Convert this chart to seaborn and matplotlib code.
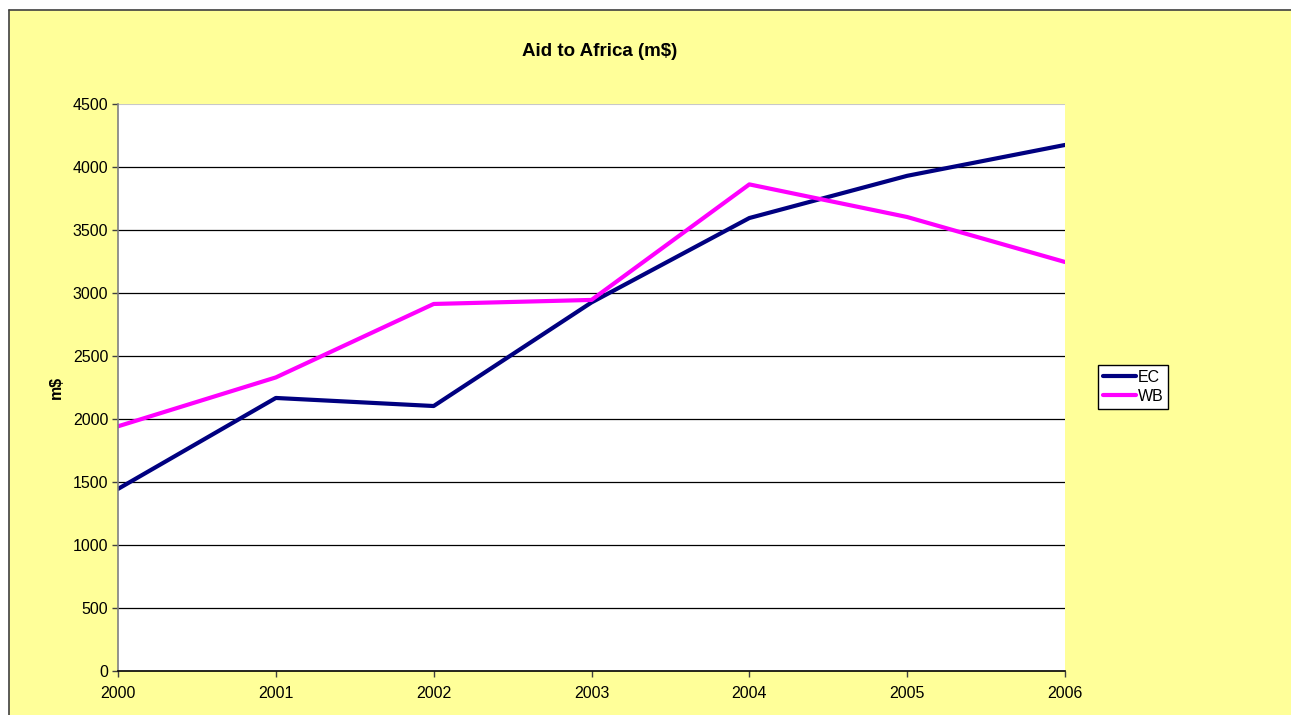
import matplotlib
matplotlib.use("Agg")
import matplotlib.pyplot as plt
from matplotlib.patches import Rectangle
from matplotlib.lines import Line2D
import pandas as pd
import seaborn as sns

# values (m$)
years = [2000, 2001, 2002, 2003, 2004, 2005, 2006]
ec_values = [1445, 2167, 2103, 2925, 3595, 3930, 4175]
wb_values = [1942, 2330, 2913, 2945, 3862, 3603, 3246]
series_names = ["EC", "WB"]
y_ticks = [0, 500, 1000, 1500, 2000, 2500, 3000, 3500, 4000, 4500]

df = pd.DataFrame({
    "year": years * 2,
    "value": ec_values + wb_values,
    "series": ["EC"] * len(years) + ["WB"] * len(years),
})

sns.set_style("ticks")
plt.rcParams["font.family"] = ["Liberation Sans", "DejaVu Sans"]
plt.rcParams["text.color"] = "black"

W, H = 1291, 715
fig = plt.figure(figsize=(W / 100, H / 100), dpi=100, facecolor="white")

# yellow chart area with the dark border on top and left (chart is cropped)
fig.patches.append(Rectangle((9 / W, 0), 1, 1 - 10 / H, transform=fig.transFigure,
                             facecolor="#FFFF99", edgecolor="none", zorder=-5))
fig.add_artist(Line2D([9 / W, 9 / W], [0, 1 - 10 / H], color="#404040", lw=1.2))
fig.add_artist(Line2D([9 / W, 1], [1 - 10 / H, 1 - 10 / H], color="#404040", lw=1.2))

ax = fig.add_axes([118 / W, 1 - 671 / H, (1065 - 118) / W, (671 - 104) / H])
ax.set_facecolor("white")

sns.lineplot(data=df, x="year", y="value", hue="series",
             palette={"EC": "#000080", "WB": "#FF00FF"}, linewidth=3.0,
             ax=ax, legend=False)

ax.set_xlim(years[0], years[-1])
ax.set_ylim(0, 4500)
ax.set_xticks(years)
ax.set_xticklabels([str(y) for y in years], fontsize=11.5)
ax.set_yticks(y_ticks)
ax.set_yticklabels([str(v) for v in y_ticks], fontsize=11.5)
for v in y_ticks[1:-1]:
    ax.axhline(v, color="black", lw=0.9, zorder=1)
# top edge of the plot area is drawn faint in the original
ax.axhline(y_ticks[-1], color="#C8C8C8", lw=1.5, zorder=1)

ax.tick_params(axis="both", direction="out", length=4, width=1, color="#404040",
               labelcolor="black")
ax.tick_params(axis="x", pad=7)
ax.tick_params(axis="y", pad=3)

for side in ["top", "right"]:
    ax.spines[side].set_visible(False)
ax.spines["left"].set_color("#808080")
ax.spines["bottom"].set_color("black")
ax.spines["left"].set_linewidth(1.2)
ax.spines["bottom"].set_linewidth(1.2)

ax.set_xlabel("")
ax.set_ylabel("m$", fontsize=11.5, fontweight="bold", labelpad=6, color="black")

fig.text(600 / W, 1 - 51 / H, "Aid to Africa (m$)", ha="center", va="center",
         fontsize=13.5, fontweight="bold", color="black")

handles = [Line2D([], [], color="#000080", lw=3.0),
           Line2D([], [], color="#FF00FF", lw=3.0)]
leg = ax.legend(handles, series_names, loc="upper left",
                bbox_to_anchor=(1098 / W, 1 - 365 / H), bbox_transform=fig.transFigure,
                borderaxespad=0, fontsize=11.5, frameon=True, fancybox=False,
                handlelength=2.1, handletextpad=0.1, borderpad=0.3,
                labelspacing=0.25)
leg.get_frame().set_edgecolor("black")
leg.get_frame().set_linewidth(1)
leg.get_frame().set_facecolor("white")
leg.get_frame().set_alpha(1)
for t in leg.get_texts():
    t.set_color("black")

fig.savefig("out.png", dpi=100, facecolor=fig.get_facecolor())
